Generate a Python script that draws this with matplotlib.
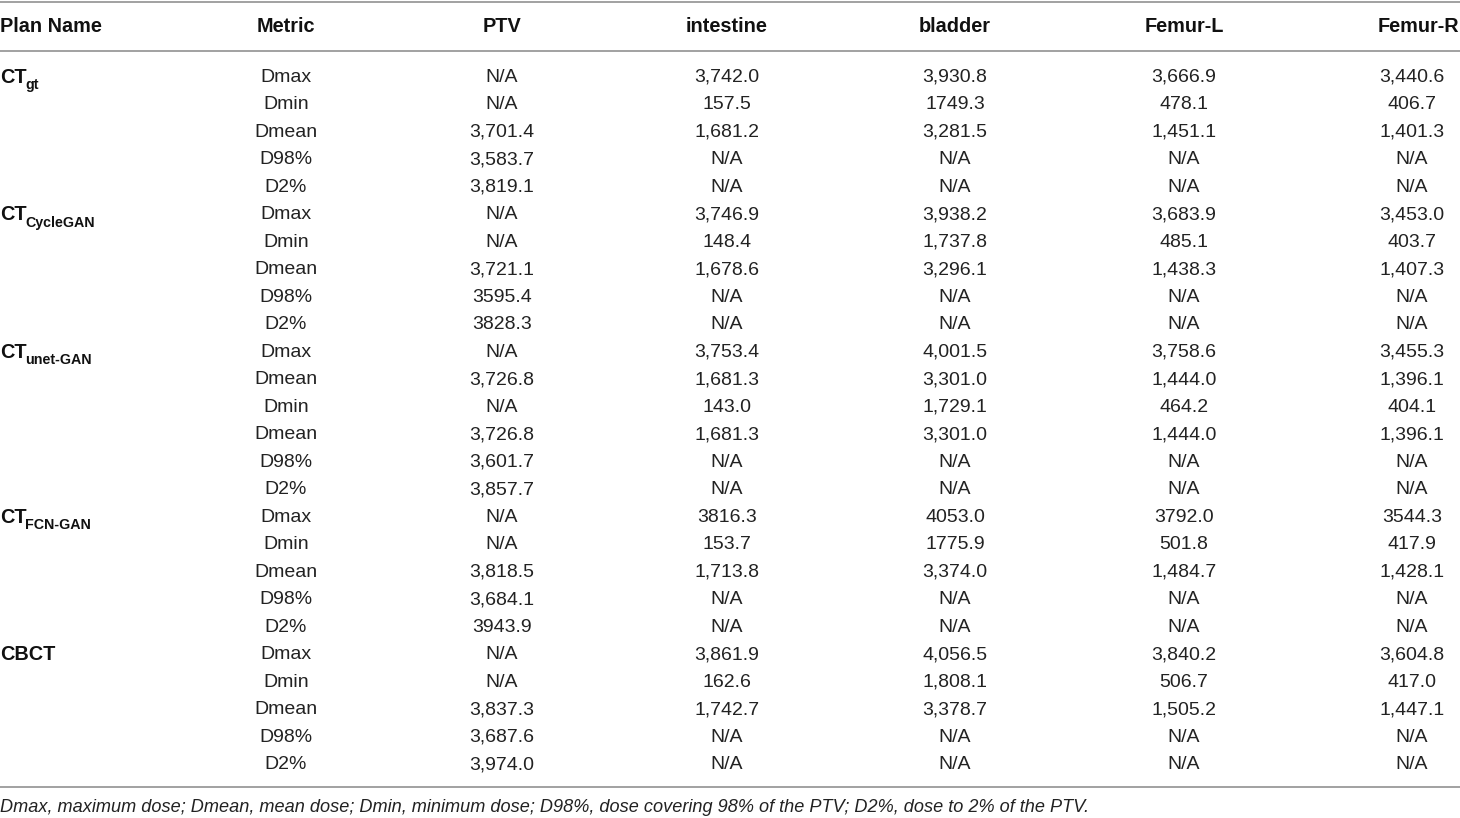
import matplotlib
matplotlib.use("Agg")
import matplotlib.pyplot as plt

plt.rcParams['font.family'] = ['Liberation Sans', 'DejaVu Sans']

columns = ["Plan Name", "Metric", "PTV", "intestine", "bladder", "Femur-L", "Femur-R"]

plans = [("CT", "gt"), ("CT", "CycleGAN"), ("CT", "unet-GAN"), ("CT", "FCN-GAN"), ("CBCT", "")]
metrics = [
    ["Dmax", "Dmin", "Dmean", "D98%", "D2%"],
    ["Dmax", "Dmin", "Dmean", "D98%", "D2%"],
    ["Dmax", "Dmean", "Dmin", "Dmean", "D98%", "D2%"],
    ["Dmax", "Dmin", "Dmean", "D98%", "D2%"],
    ["Dmax", "Dmin", "Dmean", "D98%", "D2%"],
]

ptv = ["N/A", "N/A", "3,701.4", "3,583.7", "3,819.1",
       "N/A", "N/A", "3,721.1", "3595.4", "3828.3",
       "N/A", "3,726.8", "N/A", "3,726.8", "3,601.7", "3,857.7",
       "N/A", "N/A", "3,818.5", "3,684.1", "3943.9",
       "N/A", "N/A", "3,837.3", "3,687.6", "3,974.0"]
intestine = ["3,742.0", "157.5", "1,681.2", "N/A", "N/A",
             "3,746.9", "148.4", "1,678.6", "N/A", "N/A",
             "3,753.4", "1,681.3", "143.0", "1,681.3", "N/A", "N/A",
             "3816.3", "153.7", "1,713.8", "N/A", "N/A",
             "3,861.9", "162.6", "1,742.7", "N/A", "N/A"]
bladder = ["3,930.8", "1749.3", "3,281.5", "N/A", "N/A",
           "3,938.2", "1,737.8", "3,296.1", "N/A", "N/A",
           "4,001.5", "3,301.0", "1,729.1", "3,301.0", "N/A", "N/A",
           "4053.0", "1775.9", "3,374.0", "N/A", "N/A",
           "4,056.5", "1,808.1", "3,378.7", "N/A", "N/A"]
femur_l = ["3,666.9", "478.1", "1,451.1", "N/A", "N/A",
           "3,683.9", "485.1", "1,438.3", "N/A", "N/A",
           "3,758.6", "1,444.0", "464.2", "1,444.0", "N/A", "N/A",
           "3792.0", "501.8", "1,484.7", "N/A", "N/A",
           "3,840.2", "506.7", "1,505.2", "N/A", "N/A"]
femur_r = ["3,440.6", "406.7", "1,401.3", "N/A", "N/A",
           "3,453.0", "403.7", "1,407.3", "N/A", "N/A",
           "3,455.3", "1,396.1", "404.1", "1,396.1", "N/A", "N/A",
           "3544.3", "417.9", "1,428.1", "N/A", "N/A",
           "3,604.8", "417.0", "1,447.1", "N/A", "N/A"]

footnote = ("Dmax, maximum dose; Dmean, mean dose; Dmin, minimum dose; "
            "D98%, dose covering 98% of the PTV; D2%, dose to 2% of the PTV.")

W, H = 1460, 818
fig = plt.figure(figsize=(W / 100, H / 100), dpi=100)
ax = fig.add_axes([0, 0, 1, 1])
ax.set_xlim(0, W)
ax.set_ylim(H, 0)
ax.axis("off")

fs = 14
hfs = 14.3
line_color = "#9a9a9a"
col_x = [0, 286, 502, 727, 955, 1184, 1412]
header_x = [0, 286, 502, 727, 955, 1184, 1418]
header_y = 27
row0 = 77.5
dy = 27.48

ax.plot([0, W], [1.5, 1.5], color=line_color, lw=1.3)
ax.plot([0, W], [50.5, 50.5], color=line_color, lw=1.3)
ax.plot([0, W], [786.5, 786.5], color=line_color, lw=1.3)

for i, c in enumerate(columns):
    ax.text(header_x[i], header_y, c, ha="left" if i == 0 else "center", va="center",
            fontsize=hfs, fontweight="bold", color="#111111")

data_cols = [ptv, intestine, bladder, femur_l, femur_r]
r = 0
for p, (main, sub) in enumerate(plans):
    y = row0 + r * dy
    t = ax.text(0, y, main, ha="left", va="center", fontsize=hfs, fontweight="bold", color="#111111")
    if sub:
        ax.annotate(sub, xy=(1, 0.5), xycoords=t, xytext=(-1.0, -5.5), textcoords="offset points",
                    ha="left", va="center", fontsize=hfs * 0.72, fontweight="bold", color="#111111")
    for m in metrics[p]:
        y = row0 + r * dy
        ax.text(col_x[1], y, m, ha="center", va="center", fontsize=fs, color="#222222")
        for j, col in enumerate(data_cols):
            ax.text(col_x[j + 2], y, col[r], ha="center", va="center", fontsize=fs, color="#222222")
        r += 1

ax.text(0, 807, footnote, ha="left", va="center", fontsize=13.1, style="italic", color="#222222")

fig.savefig("out.png", dpi=100)
